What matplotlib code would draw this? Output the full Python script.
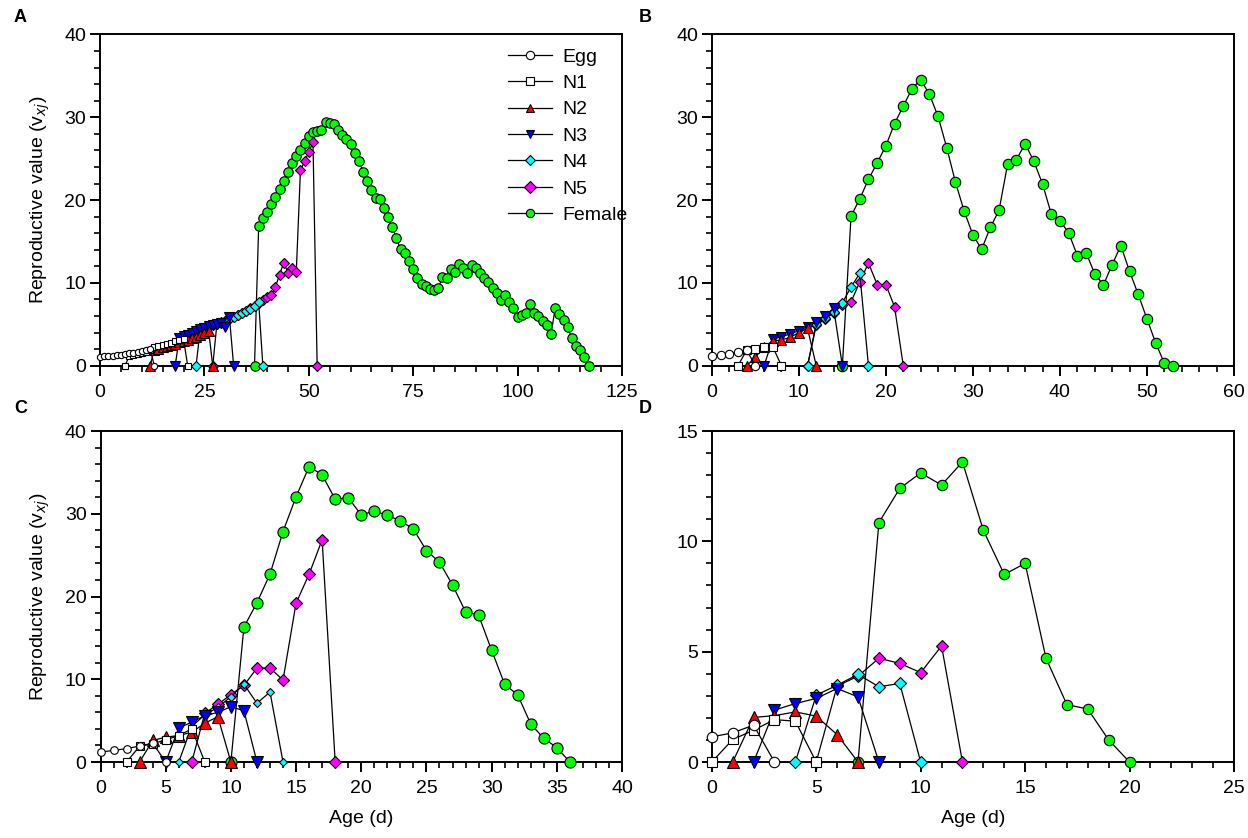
import numpy as np
import matplotlib
matplotlib.use("Agg")
import matplotlib.pyplot as plt
from matplotlib.lines import Line2D
from matplotlib.ticker import MultipleLocator

plt.rcParams['font.family'] = ['Liberation Sans', 'DejaVu Sans']

stages = ["Egg", "N1", "N2", "N3", "N4", "N5", "Female"]

# ---- Panel A (start age, values) ----
A_egg_start, A_egg = 0, [1.09, 1.12, 1.17, 1.22, 1.28, 1.34, 1.41, 1.50, 1.58, 1.68, 1.78, 1.90, 2.05, 0]
A_n1_start, A_n1 = 6, [0, 1.2, 1.3, 1.4, 1.5, 1.65, 1.85, 2.2, 2.35, 2.5, 2.65, 2.8, 2.95, 3.05, 3.2, 0]
A_n2_start, A_n2 = 12, [0, 1.9, 2.05, 2.2, 2.35, 2.5, 2.65, 2.85, 3.0, 3.15, 3.3, 3.5, 3.7, 3.95, 4.25, 0]
A_n3_start, A_n3 = 18, [0, 3.4, 3.55, 3.75, 3.95, 4.15, 4.4, 4.6, 4.8, 4.95, 5.05, 5.2, 4.65, 5.85, 0]
A_n4_start, A_n4 = 23, [0, 4.35, 4.55, 4.75, 4.9, 5.05, 5.2, 5.35, 5.6, 5.85, 6.1, 6.35, 6.6, 6.9, 7.2, 7.65, 0]
A_n5_start, A_n5 = 27, [0, 5.1, 5.25, 5.4, 5.65, 5.9, 6.15, 6.4, 6.65, 6.95, 7.25, 7.6, 7.9, 8.3, 8.55,
                        9.5, 11.0, 12.45, 11.25, 11.75, 11.3, 23.6, 24.7, 25.8, 27.0, 0]
A_f_start, A_f = 37, [0,
                      16.9, 17.8, 18.6, 19.55, 20.4, 21.3, 22.35, 23.45, 24.45, 25.35,
                      26.1, 26.95, 27.75, 28.2, 28.3, 28.5, 29.4, 29.3, 29.2, 28.5,
                      27.9, 27.4, 26.8, 25.7, 24.7, 23.45, 22.35, 21.25, 20.2, 20.15,
                      19.1, 18.0, 16.7, 15.4, 14.05, 13.6, 12.6, 11.65, 10.65, 9.9,
                      9.6, 9.3, 9.2, 9.35, 10.7, 10.55, 11.65, 11.3, 12.3, 11.75,
                      11.25, 12.15, 11.75, 11.15, 10.55, 10.05, 9.35, 8.75, 7.95, 8.55,
                      7.75, 7.0, 5.85, 6.15, 6.4, 7.4, 6.4, 5.95, 5.4, 4.9,
                      3.8, 6.95, 6.25, 5.5, 4.65, 3.3, 2.4, 1.95, 1.0, 0]

# ---- Panel B ----
B_egg_start, B_egg = 0, [1.17, 1.33, 1.45, 1.65, 1.89, 0]
B_n1_start, B_n1 = 3, [0, 1.85, 2.0, 2.3, 2.3, 0]
B_n2_start, B_n2 = 4, [0, 1.0, 2.3, 3.0, 3.1, 3.43, 3.99, 4.51, 0]
B_n3_start, B_n3 = 6, [0, 3.18, 3.5, 3.83, 4.23, 4.72, 5.32, 6.05, 6.93, 0]
B_n4_start, B_n4 = 11, [0, 5.04, 5.72, 6.53, 7.6, 9.5, 11.15, 0]
B_n5_start, B_n5 = 11, [0, 4.9, 5.6, 6.4, 7.34, 7.7, 10.1, 12.4, 9.8, 9.8, 7.1, 0]
B_f_start, B_f = 15, [0, 18.05, 20.15, 22.5, 24.5, 26.55, 29.25, 31.35, 33.45, 34.55, 32.8,
                      30.1, 26.3, 22.15, 18.65, 15.8, 14.05, 16.7, 18.75, 24.4, 24.9,
                      26.8, 24.7, 21.95, 18.35, 17.5, 16.05, 13.3, 13.65, 11.1, 9.75,
                      12.2, 14.5, 11.4, 8.6, 5.65, 2.75, 0.3, 0]

# ---- Panel C ----
C_egg_start, C_egg = 0, [1.2, 1.4, 1.62, 1.93, 2.28, 0]
C_n1_start, C_n1 = 2, [0, 1.9, 2.2, 2.68, 3.2, 4.0, 0]
C_n2_start, C_n2 = 3, [0, 2.6, 3.0, 3.2, 3.6, 4.68, 5.48, 0]
C_n3_start, C_n3 = 5, [0, 4.12, 4.8, 5.6, 6.0, 6.68, 6.2, 0]
C_n4_start, C_n4 = 6, [0, 4.3, 5.7, 6.6, 7.9, 9.4, 7.1, 8.45, 0]
C_n5_start, C_n5 = 7, [0, 5.9, 6.95, 8.15, 9.25, 11.35, 11.35, 9.9, 19.2, 22.7, 26.85, 0]
C_f_start, C_f = 10, [0, 16.3, 19.25, 22.7, 27.85, 32.05, 35.7, 34.7, 31.75, 31.95, 29.85,
                      30.35, 29.8, 29.15, 28.15, 25.55, 24.15, 21.4, 18.15, 17.75, 13.5,
                      9.4, 8.1, 4.6, 2.85, 1.75, 0]

# ---- Panel D ----
D_egg_start, D_egg = 0, [1.14, 1.32, 1.67, 0]
D_n1_start, D_n1 = 0, [0, 1.02, 1.44, 1.92, 1.85, 0]
D_n2_start, D_n2 = 1, [0, 2.02, 2.1, 2.27, 2.08, 1.24, 0]
D_n3_start, D_n3 = 2, [0, 2.35, 2.65, 2.88, 3.33, 2.95, 0]
D_n4_start, D_n4 = 4, [0, 3.03, 3.48, 3.97, 3.41, 3.56, 0]
D_n5_start, D_n5 = 5, [0, 3.44, 3.89, 4.7, 4.47, 4.05, 5.26, 0]
D_f_start, D_f = 7, [0, 10.85, 12.4, 13.1, 12.55, 13.6, 10.5, 8.5, 9.0, 4.7, 2.6, 2.4, 1.0, 0]

markers = {"Egg": ("o", "white"), "N1": ("s", "white"), "N2": ("^", "#FF0000"),
           "N3": ("v", "#0000FF"), "N4": ("D", "#00FFFF"), "N5": ("D", "#FF00FF"),
           "Female": ("o", "#00FF00")}

panels = {
    "A": dict(data={"Egg": (A_egg_start, A_egg), "N1": (A_n1_start, A_n1), "N2": (A_n2_start, A_n2),
                    "N3": (A_n3_start, A_n3), "N4": (A_n4_start, A_n4), "N5": (A_n5_start, A_n5),
                    "Female": (A_f_start, A_f)},
              ms={"Egg": 4.5, "N1": 4.5, "N2": 7, "N3": 7, "N4": 4.8, "N5": 5.3, "Female": 6.8},
              xlim=125, xmaj=25, xmin=5, ylim=40, ymaj=10, ymin=2),
    "B": dict(data={"Egg": (B_egg_start, B_egg), "N1": (B_n1_start, B_n1), "N2": (B_n2_start, B_n2),
                    "N3": (B_n3_start, B_n3), "N4": (B_n4_start, B_n4), "N5": (B_n5_start, B_n5),
                    "Female": (B_f_start, B_f)},
              ms={"Egg": 6, "N1": 6, "N2": 7.5, "N3": 7.5, "N4": 5.5, "N5": 5.5, "Female": 7.5},
              xlim=60, xmaj=10, xmin=2, ylim=40, ymaj=10, ymin=2),
    "C": dict(data={"Egg": (C_egg_start, C_egg), "N1": (C_n1_start, C_n1), "N2": (C_n2_start, C_n2),
                    "N3": (C_n3_start, C_n3), "N4": (C_n4_start, C_n4), "N5": (C_n5_start, C_n5),
                    "Female": (C_f_start, C_f)},
              ms={"Egg": 5.5, "N1": 6, "N2": 8, "N3": 8, "N4": 3.8, "N5": 5.8, "Female": 8},
              xlim=40, xmaj=5, xmin=1, ylim=40, ymaj=10, ymin=2),
    "D": dict(data={"Egg": (D_egg_start, D_egg), "N1": (D_n1_start, D_n1), "N2": (D_n2_start, D_n2),
                    "N3": (D_n3_start, D_n3), "N4": (D_n4_start, D_n4), "N5": (D_n5_start, D_n5),
                    "Female": (D_f_start, D_f)},
              ms={"Egg": 7.5, "N1": 7.5, "N2": 8, "N3": 8, "N4": 6, "N5": 6, "Female": 7.5},
              xlim=25, xmaj=5, xmin=1, ylim=15, ymaj=5, ymin=1),
}

W, H = 1248, 838
fig = plt.figure(figsize=(W / 100, H / 100), dpi=100)
boxes = {"A": (100, 34.5, 622, 365.7), "B": (711.8, 34.5, 1234, 365.7),
         "C": (100.5, 431, 622, 762), "D": (711.8, 431, 1234, 762)}

FS = 14
for key, p in panels.items():
    x0, y0, x1, y1 = boxes[key]
    ax = fig.add_axes([x0 / W, 1 - y1 / H, (x1 - x0) / W, (y1 - y0) / H])
    for st in reversed(stages):
        start, vals = p["data"][st]
        ages = np.arange(start, start + len(vals))
        mk, col = markers[st]
        ax.plot(ages, vals, color="black", lw=0.9, marker=mk, mfc=col, mec="black",
                mew=0.8, ms=p["ms"][st], clip_on=False, zorder=3)
    ax.set_xlim(0, p["xlim"])
    ax.set_ylim(0, p["ylim"])
    ax.xaxis.set_major_locator(MultipleLocator(p["xmaj"]))
    ax.xaxis.set_minor_locator(MultipleLocator(p["xmin"]))
    ax.yaxis.set_major_locator(MultipleLocator(p["ymaj"]))
    ax.yaxis.set_minor_locator(MultipleLocator(p["ymin"]))
    ax.tick_params(which="major", direction="out", length=7, width=1.4, labelsize=FS, pad=3)
    ax.tick_params(axis="x", which="major", pad=6)
    ax.tick_params(which="minor", direction="out", length=4, width=1.2)
    for s in ax.spines.values():
        s.set_linewidth(1.4)
    if key in ("A", "C"):
        ax.set_ylabel(r"Reproductive value (v$_{xj}$)", fontsize=FS, labelpad=9)
    if key in ("C", "D"):
        ax.set_xlabel("Age (d)", fontsize=FS, labelpad=9)
    if key == "A":
        handles = []
        for st in stages:
            mk, col = markers[st]
            handles.append(Line2D([], [], color="black", lw=0.9, marker=mk, mfc=col, mec="black",
                                  mew=0.8, ms=6 if st != "N4" else 5))
        ax.legend(handles, stages, loc="upper left", bbox_to_anchor=(0.755, 1.0), frameon=False,
                  fontsize=14, handlelength=2.3, handletextpad=0.5, labelspacing=0.45,
                  borderaxespad=0.3)

labels = {"A": (14, 18), "B": (639, 18), "C": (14, 408), "D": (639, 408)}
for k, (lx, ly) in labels.items():
    fig.text(lx / W, 1 - ly / H, k, fontsize=13, fontweight="bold", ha="left", va="center")

fig.savefig("out.png", dpi=100)
